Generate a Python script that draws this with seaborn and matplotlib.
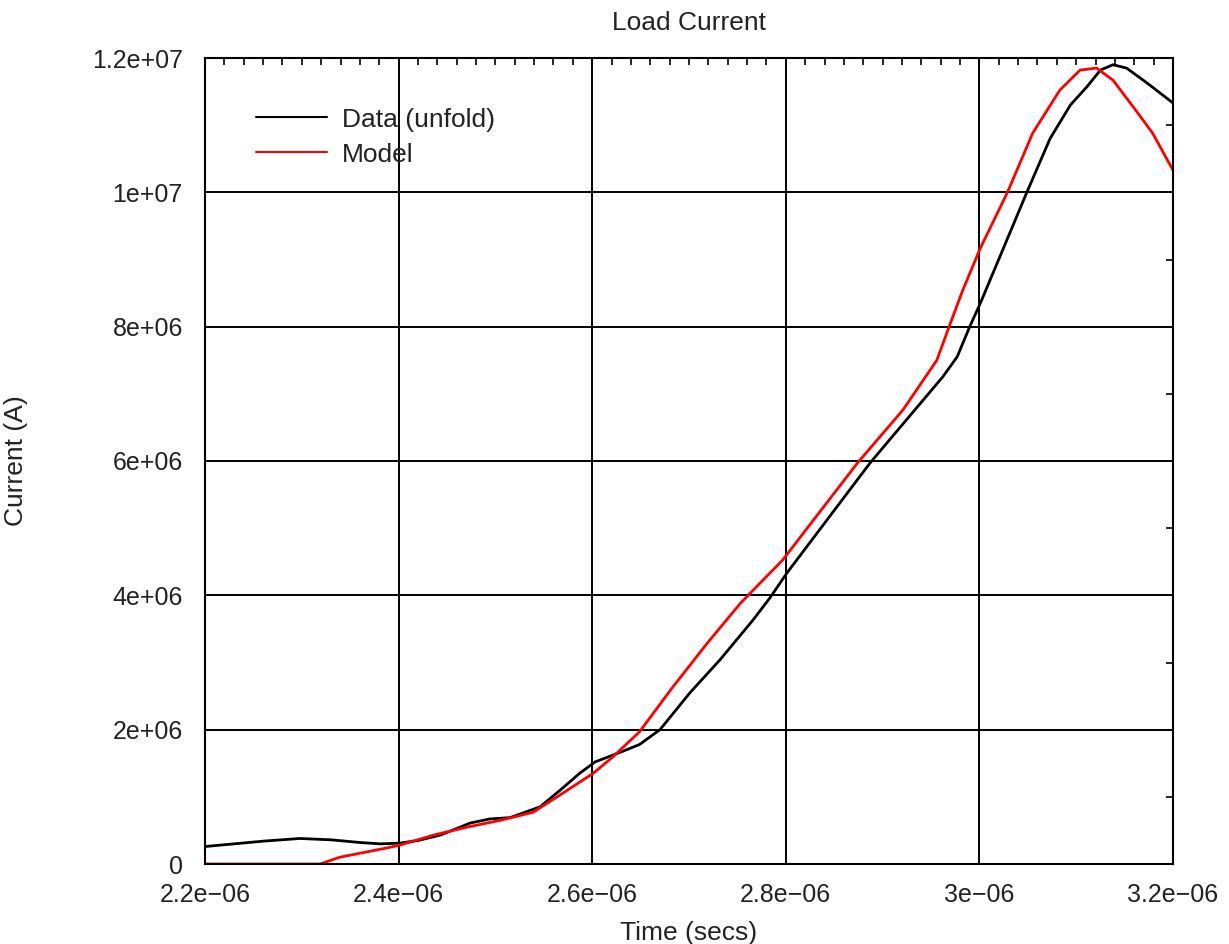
import numpy as np
import pandas as pd
import matplotlib
matplotlib.use("Agg")
import matplotlib.pyplot as plt
from matplotlib.ticker import MultipleLocator, FuncFormatter
import seaborn as sns

# values (time in s, current in A)
data_t = [2.200e-6, 2.230e-6, 2.260e-6, 2.298e-6, 2.330e-6, 2.360e-6, 2.381e-6, 2.401e-6,
          2.420e-6, 2.443e-6, 2.474e-6, 2.494e-6, 2.515e-6, 2.546e-6, 2.567e-6, 2.587e-6,
          2.603e-6, 2.632e-6, 2.649e-6, 2.670e-6, 2.701e-6, 2.732e-6, 2.766e-6, 2.784e-6,
          2.801e-6, 2.887e-6, 2.918e-6, 2.962e-6, 2.977e-6, 2.990e-6, 3.001e-6, 3.024e-6,
          3.049e-6, 3.073e-6, 3.094e-6, 3.111e-6, 3.125e-6, 3.138e-6, 3.152e-6, 3.173e-6,
          3.200e-6]
data_i = [2.6e5, 3.0e5, 3.4e5, 3.8e5, 3.6e5, 3.2e5, 3.0e5, 3.1e5,
          3.5e5, 4.3e5, 6.1e5, 6.7e5, 6.9e5, 8.5e5, 1.1e6, 1.35e6,
          1.52e6, 1.68e6, 1.78e6, 2.0e6, 2.55e6, 3.04e6, 3.63e6, 3.97e6,
          4.33e6, 5.97e6, 6.5e6, 7.25e6, 7.55e6, 8.0e6, 8.35e6, 9.14e6,
          1.0e7, 1.08e7, 1.13e7, 1.157e7, 1.182e7, 1.19e7, 1.185e7, 1.163e7,
          1.133e7]

model_t = [2.200e-6, 2.319e-6, 2.339e-6, 2.360e-6, 2.388e-6, 2.401e-6, 2.436e-6, 2.471e-6,
           2.505e-6, 2.539e-6, 2.567e-6, 2.601e-6, 2.621e-6, 2.649e-6, 2.683e-6, 2.719e-6,
           2.753e-6, 2.797e-6, 2.874e-6, 2.921e-6, 2.956e-6, 2.970e-6, 2.983e-6, 3.001e-6,
           3.029e-6, 3.055e-6, 3.083e-6, 3.104e-6, 3.121e-6, 3.138e-6, 3.159e-6, 3.179e-6,
           3.200e-6]
model_i = [0.0, 0.0, 1.0e5, 1.6e5, 2.4e5, 2.8e5, 4.3e5, 5.5e5,
           6.5e5, 7.7e5, 1.03e6, 1.35e6, 1.59e6, 1.97e6, 2.63e6, 3.29e6,
           3.88e6, 4.53e6, 5.97e6, 6.76e6, 7.5e6, 8.05e6, 8.55e6, 9.17e6,
           1.0e7, 1.088e7, 1.152e7, 1.182e7, 1.185e7, 1.167e7, 1.127e7, 1.088e7,
           1.033e7]

series_names = ["Data (unfold)", "Model"]

df = pd.concat([
    pd.DataFrame({"t": data_t, "I": data_i, "series": series_names[0]}),
    pd.DataFrame({"t": model_t, "I": model_i, "series": series_names[1]}),
])

sns.set_theme(style="white")
plt.rcParams['font.family'] = ['Liberation Sans', 'DejaVu Sans']

fig = plt.figure(figsize=(12.29, 9.44), dpi=100)
ax = fig.add_axes([205/1229, 1-864/944, (1173-205)/1229, (864-58)/944])

sns.lineplot(data=df, x="t", y="I", hue="series", palette=["black", "red"],
             linewidth=2, ax=ax, sort=False, estimator=None)

ax.set_xlim(2.2e-6, 3.2e-6)
ax.set_ylim(0, 1.2e7)
ax.xaxis.set_major_locator(MultipleLocator(0.2e-6))
ax.xaxis.set_minor_locator(MultipleLocator(0.02e-6))
ax.yaxis.set_major_locator(MultipleLocator(2e6))
ax.yaxis.set_minor_locator(MultipleLocator(1e6))

fmt = FuncFormatter(lambda v, p: ("%g" % v).replace("-", "\u2212"))
ax.xaxis.set_major_formatter(fmt)
ax.yaxis.set_major_formatter(fmt)

ax.grid(True, which="major", color="black", linewidth=1.4)
for s in ax.spines.values():
    s.set_color("black")
    s.set_linewidth(1.5)
ax.tick_params(which="both", direction="in", top=True, right=True, colors="black",
               labelsize=18, labelcolor="#222222")
ax.tick_params(which="major", length=0)
ax.tick_params(axis="x", which="major", pad=14)
ax.tick_params(axis="y", which="major", pad=16)
ax.tick_params(which="minor", length=5, width=1.2)

ax.set_title("Load Current", fontsize=19, color="#222222", pad=20)
ax.set_xlabel("Time (secs)", fontsize=19, color="#222222", labelpad=10)
ax.set_ylabel("Current (A)", fontsize=19, color="#222222")
ax.yaxis.set_label_coords(-0.183, 0.5)

# legend without frame, top-left inside the axes
leg = ax.legend(loc="upper left", bbox_to_anchor=(0.028, 0.968), frameon=False,
                fontsize=19, handlelength=2.7, handletextpad=0.55, labelspacing=0.42)
for h in leg.get_lines():
    h.set_linewidth(1.5)
for tx in leg.get_texts():
    tx.set_color("#222222")

fig.savefig("out.png", dpi=100)
